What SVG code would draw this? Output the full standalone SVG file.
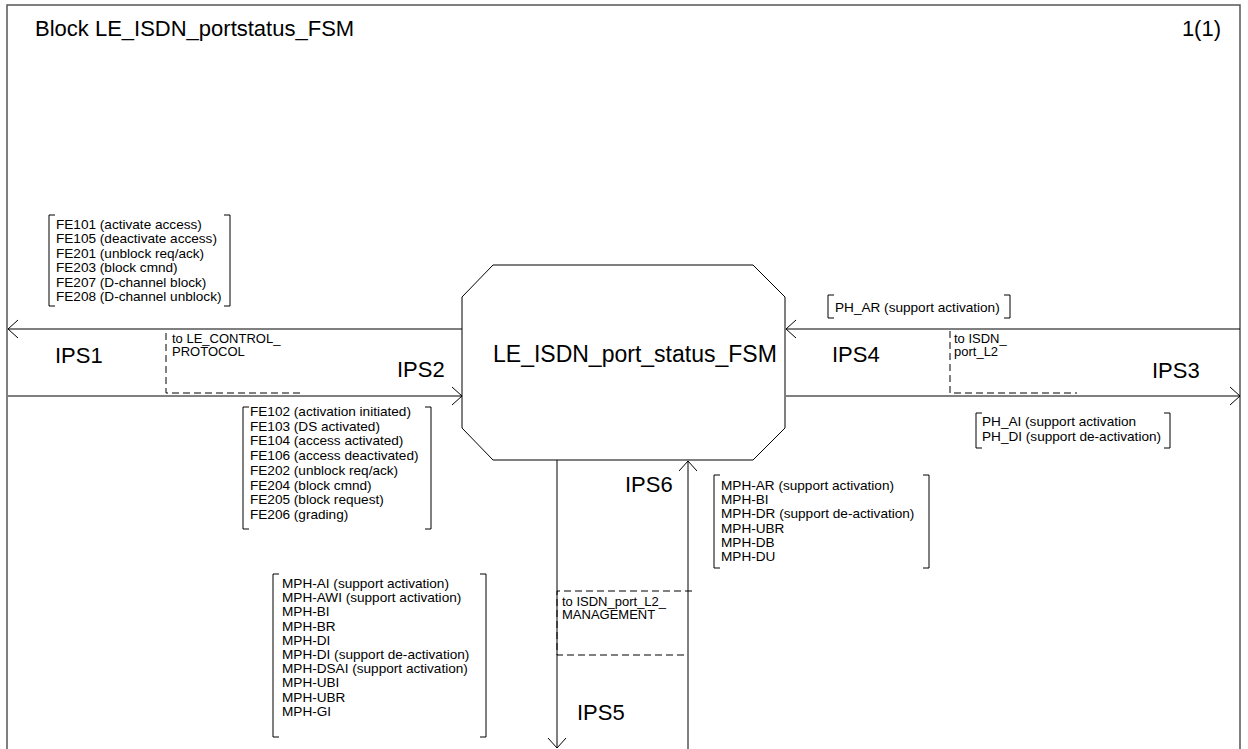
<svg xmlns="http://www.w3.org/2000/svg" width="1248" height="749" viewBox="0 0 1248 749">
<style>
text{font-family:"Liberation Sans",Arial,sans-serif;fill:#000}
.t{font-size:22px}
.ips{font-size:22px}
.big{font-size:23px}
.s{font-size:13.6px}
.r{font-size:13px}
.ln{fill:none;stroke:#000;stroke-width:1}
.br{fill:none;stroke:#000;stroke-width:1}
.ds{fill:none;stroke:#000;stroke-width:1;stroke-dasharray:7 4}
.frame{fill:none;stroke:#555;stroke-width:1.5}
</style>
<defs>
<marker id="arr" viewBox="0 0 12 20" refX="11" refY="10" markerWidth="12" markerHeight="20" markerUnits="userSpaceOnUse" orient="auto">
<path d="M1,1 L11,10 L1,19" fill="none" stroke="#000" stroke-width="1"/>
</marker>
</defs>
<rect width="1248" height="749" fill="#fff"/>
<g id="frame">
<rect class="frame" x="7" y="5" width="1233" height="760"/>
<text class="t" x="35" y="36">Block LE_ISDN_portstatus_FSM</text>
<text class="t" x="1221" y="36" text-anchor="end">1(1)</text>
</g>
<g id="connectors">
<path class="ln" d="M462,329 H8" marker-end="url(#arr)"/>
<path class="ln" d="M8,396 H462" marker-end="url(#arr)"/>
<path class="ln" d="M1240,329 H786" marker-end="url(#arr)"/>
<path class="ln" d="M786,396 H1240" marker-end="url(#arr)"/>
<path class="ln" d="M557,460 V748" marker-end="url(#arr)"/>
<path class="ln" d="M688,749 V461" marker-end="url(#arr)"/>
<text class="ips" x="55" y="363">IPS1</text>
<text class="ips" x="397" y="377">IPS2</text>
<text class="ips" x="832" y="362">IPS4</text>
<text class="ips" x="1152" y="378">IPS3</text>
<text class="ips" x="625" y="492">IPS6</text>
<text class="ips" x="577" y="720">IPS5</text>
</g>
<g id="LE_ISDN_port_status_FSM">
<polygon points="493,265 753,265 785,297 785,428 753,460 493,460 462,428 462,297" fill="#fff" stroke="#000" stroke-width="1"/>
<text class="big" x="493" y="362">LE_ISDN_port_status_FSM</text>
</g>
<g id="route_LE_CONTROL_PROTOCOL">
<path class="ds" d="M166,333 V393 H302"/>
<text class="r"><tspan x="172" y="343">to LE_CONTROL_</tspan><tspan x="172" y="356">PROTOCOL</tspan></text>
</g>
<g id="route_ISDN_port_L2">
<path class="ds" d="M950,331 V393 H1077"/>
<text class="r"><tspan x="954" y="343">to ISDN_</tspan><tspan x="954" y="356">port_L2</tspan></text>
</g>
<g id="route_ISDN_port_L2_MANAGEMENT">
<path class="ds" d="M692,591 H557 V655 H687"/>
<text class="r"><tspan x="562" y="606">to ISDN_port_L2_</tspan><tspan x="562" y="619">MANAGEMENT</tspan></text>
</g>
<g id="signals_IPS1">
<path class="br" d="M55,215 H49 V306 H55 M224,215 H230 V306 H224"/>
<text class="s"><tspan x="56" y="229">FE101 (activate access)</tspan><tspan x="56" y="243.4">FE105 (deactivate access)</tspan><tspan x="56" y="257.8">FE201 (unblock req/ack)</tspan><tspan x="56" y="272.2">FE203 (block cmnd)</tspan><tspan x="56" y="286.6">FE207 (D-channel block)</tspan><tspan x="56" y="301">FE208 (D-channel unblock)</tspan></text>
</g>
<g id="signals_IPS2">
<path class="br" d="M249,407 H243 V529 H249 M425,407 H431 V529 H425"/>
<text class="s"><tspan x="250" y="416">FE102 (activation initiated)</tspan><tspan x="250" y="430.7">FE103 (DS activated)</tspan><tspan x="250" y="445.4">FE104 (access activated)</tspan><tspan x="250" y="460.1">FE106 (access deactivated)</tspan><tspan x="250" y="474.8">FE202 (unblock req/ack)</tspan><tspan x="250" y="489.5">FE204 (block cmnd)</tspan><tspan x="250" y="504.2">FE205 (block request)</tspan><tspan x="250" y="519">FE206 (grading)</tspan></text>
</g>
<g id="signals_IPS4">
<path class="br" d="M834,295 H828 V318 H834 M1004,295 H1010 V318 H1004"/>
<text class="s" x="835" y="312">PH_AR (support activation)</text>
</g>
<g id="signals_IPS3">
<path class="br" d="M982,413 H976 V448 H982 M1164,413 H1170 V448 H1164"/>
<text class="s"><tspan x="982" y="426">PH_AI (support activation</tspan><tspan x="982" y="441">PH_DI (support de-activation)</tspan></text>
</g>
<g id="signals_IPS6">
<path class="br" d="M720,475 H714 V568 H720 M923,475 H929 V568 H923"/>
<text class="s"><tspan x="721" y="490">MPH-AR (support activation)</tspan><tspan x="721" y="504.2">MPH-BI</tspan><tspan x="721" y="518.4">MPH-DR (support de-activation)</tspan><tspan x="721" y="532.6">MPH-UBR</tspan><tspan x="721" y="546.8">MPH-DB</tspan><tspan x="721" y="561">MPH-DU</tspan></text>
</g>
<g id="signals_IPS5">
<path class="br" d="M279,574 H273 V737 H279 M480,574 H486 V737 H480"/>
<text class="s"><tspan x="282" y="588">MPH-AI (support activation)</tspan><tspan x="282" y="602.2">MPH-AWI (support activation)</tspan><tspan x="282" y="616.4">MPH-BI</tspan><tspan x="282" y="630.6">MPH-BR</tspan><tspan x="282" y="644.8">MPH-DI</tspan><tspan x="282" y="659">MPH-DI (support de-activation)</tspan><tspan x="282" y="673.2">MPH-DSAI (support activation)</tspan><tspan x="282" y="687.4">MPH-UBI</tspan><tspan x="282" y="701.6">MPH-UBR</tspan><tspan x="282" y="715.8">MPH-GI</tspan></text>
</g>
</svg>
